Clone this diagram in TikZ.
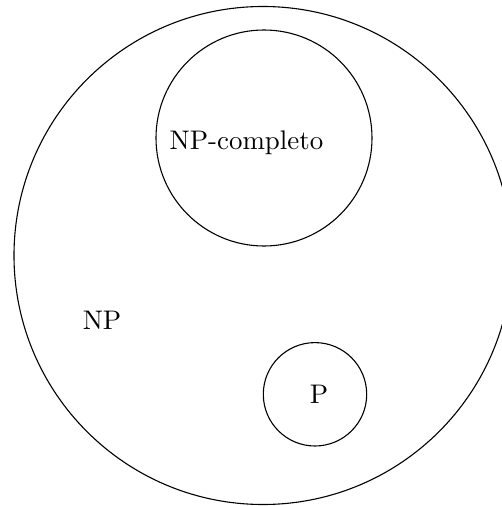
\documentclass[tikz,border=0pt]{standalone}
\begin{document}
\begin{tikzpicture}[x=1pt,y=-1pt,
  setcircle/.style={draw=black,line width=1.1pt,circle,inner sep=0pt},
  lbl/.style={font=\fontsize{10}{12}\selectfont,scale=2.69,inner sep=0pt,anchor=center}]
\clip (0,0) rectangle (502,506);
\useasboundingbox (0,0) rectangle (502,506);
\node[setcircle,minimum size=498] (np) at (263,255.5) {};
\node[setcircle,minimum size=216] (npc) at (264,138) {};
\node[setcircle,minimum size=103.4] (p) at (315,394.3) {};
\node[lbl] (tnpc) at (246.5,143) {NP-completo};
\node[lbl] (tnp) at (102,320) {NP};
\node[lbl] (tp) at (319,394) {P};
\end{tikzpicture}
\end{document}
